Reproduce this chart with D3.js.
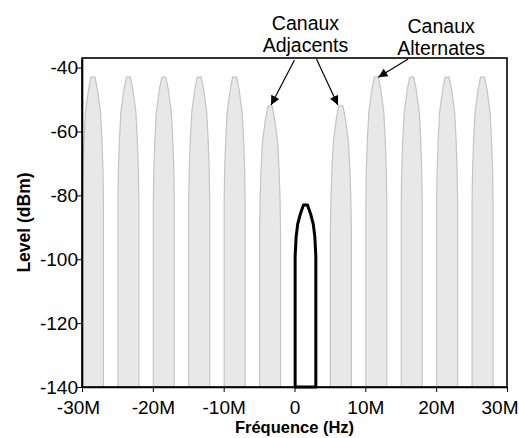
<!DOCTYPE html>
<html>
<head>
<meta charset="utf-8">
<script src="https://cdn.jsdelivr.net/npm/d3@7"></script>
<style>
  html, body { margin: 0; padding: 0; background: #fff; }
  svg { display: block; font-family: "Liberation Sans", Arial, sans-serif; }
</style>
</head>
<body>
<svg id="chart" width="519" height="438"></svg>
<script>
// ---- data ----
const channelCenters = [-28.45e6, -23.45e6, -18.45e6, -13.45e6, -8.45e6, -3.45e6, 6.55e6, 11.55e6, 16.55e6, 21.55e6, 26.55e6];
const channelPeaks   = [-43, -43, -43, -43, -43, -52, -52, -43, -43, -43, -43];
const channelKinds   = ["alt", "alt", "alt", "alt", "alt", "adj", "adj", "alt", "alt", "alt", "alt"];
// profile: dB below peak, half width (Hz)
const profileDrop  = [0, 4, 11, 20, 29, 39];
const profileHalfW = [0.28e6, 0.64e6, 1.06e6, 1.27e6, 1.41e6, 1.48e6];
const mainCenter = 1.55e6;
const mainPeak = -83;
const mainDrop  = [0, 3, 6, 10, 16];
const mainHalfW = [0.28e6, 0.75e6, 1.1e6, 1.32e6, 1.46e6];
const floorLevel = -140;
const xTicks = [-30e6, -20e6, -10e6, 0, 10e6, 20e6, 30e6];
const yTicks = [-40, -60, -80, -100, -120, -140];
const xDomain = [-30e6, 30e6];
const yDomain = [-140, -37];
const xTitle = "Fréquence (Hz)";
const yTitle = "Level (dBm)";
const annotAdjLines = ["Canaux", "Adjacents"];
const annotAltLines = ["Canaux", "Alternates"];
const annotAdjAt = 1.55e6;   // label centre (Hz)
const annotAltAt = 20.7e6;

// ---- layout ----
const svg = d3.select("#chart");
const m = { left: 82, right: 507, top: 58, bottom: 387 };
const x = d3.scaleLinear().domain(xDomain).range([m.left, m.right]);
const y = d3.scaleLinear().domain(yDomain).range([m.bottom, m.top]);

function shapePoints(center, peak, drops, halfs) {
  const pts = [];
  pts.push([center - halfs[halfs.length - 1], floorLevel]);
  for (let i = drops.length - 1; i >= 0; i--) pts.push([center - halfs[i], peak - drops[i]]);
  for (let i = 0; i < drops.length; i++) pts.push([center + halfs[i], peak - drops[i]]);
  pts.push([center + halfs[halfs.length - 1], floorLevel]);
  return pts;
}
const line = d3.line().x(d => x(d[0])).y(d => y(d[1]));

// gray channels
svg.append("g").selectAll("path")
  .data(channelCenters.map((c, i) => shapePoints(c, channelPeaks[i], profileDrop, profileHalfW)))
  .join("path")
  .attr("d", d => line(d))
  .attr("fill", "#e8e8e8")
  .attr("stroke", "#c4c4c4")
  .attr("stroke-width", 1.2);

// main channel
svg.append("path")
  .attr("d", line(shapePoints(mainCenter, mainPeak, mainDrop, mainHalfW)) + "Z")
  .attr("fill", "#fff")
  .attr("stroke", "#000")
  .attr("stroke-width", 3)
  .attr("stroke-linejoin", "round");

// frame
svg.append("rect")
  .attr("x", m.left).attr("y", m.top)
  .attr("width", m.right - m.left).attr("height", m.bottom - m.top)
  .attr("fill", "none").attr("stroke", "#000").attr("stroke-width", 1.6);

// axes
const fmtX = d => d === 0 ? "0" : (d / 1e6) + "M";
const gx = svg.append("g").attr("transform", `translate(0,${m.bottom})`)
  .call(d3.axisBottom(x).tickValues(xTicks).tickFormat(fmtX).tickSize(5).tickSizeOuter(0));
const gy = svg.append("g").attr("transform", `translate(${m.left},0)`)
  .call(d3.axisLeft(y).tickValues(yTicks).tickFormat(d => String(d)).tickSize(5).tickSizeOuter(0));
[gx, gy].forEach(g => {
  g.select(".domain").attr("stroke", "#000").attr("stroke-width", 1.6);
  g.selectAll(".tick line").attr("stroke", "#000");
  g.selectAll(".tick text").attr("fill", "#000")
    .style("font-family", '"Liberation Sans", Arial, sans-serif')
    .style("font-size", "19px");
});
gx.selectAll(".tick text").attr("dy", "0.98em");
// keep the last label inside the window
gx.selectAll(".tick text").filter(d => d === xTicks[xTicks.length - 1])
  .attr("text-anchor", "end").attr("x", 11);
gx.selectAll(".tick text").filter(d => d === xTicks[0]).attr("x", -4);
gy.selectAll(".tick text").attr("x", -4);

// titles
svg.append("text")
  .attr("x", (m.left + m.right) / 2).attr("y", 433)
  .attr("text-anchor", "middle")
  .style("font-size", "16.5px").style("font-weight", "bold")
  .text(xTitle);
svg.append("text")
  .attr("transform", `translate(30,${(m.top + m.bottom) / 2}) rotate(-90)`)
  .attr("text-anchor", "middle")
  .style("font-size", "17.5px").style("font-weight", "bold")
  .text(yTitle);

// annotations
const defs = svg.append("defs");
defs.append("marker")
  .attr("id", "arrow").attr("viewBox", "0 0 10 10")
  .attr("refX", 10).attr("refY", 5)
  .attr("markerWidth", 13).attr("markerHeight", 9)
  .attr("markerUnits", "userSpaceOnUse")
  .attr("orient", "auto")
  .append("path").attr("d", "M0,0 L10,5 L0,10 Z").attr("fill", "#000");

function label(lines, cx, y0) {
  const t = svg.append("text").attr("text-anchor", "middle")
    .style("font-size", "19.5px").attr("fill", "#000");
  lines.forEach((s, i) => t.append("tspan").attr("x", cx).attr("y", y0 + i * 22).text(s));
}
const adjLabelX = x(annotAdjAt);
label(annotAdjLines, adjLabelX, 30);
const altLabelX = x(annotAltAt);
label(annotAltLines, altLabelX, 33);

function arrow(x1, y1, x2, y2) {
  svg.append("line")
    .attr("x1", x1).attr("y1", y1).attr("x2", x2).attr("y2", y2)
    .attr("stroke", "#000").attr("stroke-width", 1.2)
    .attr("marker-end", "url(#arrow)");
}
// adjacent arrows -> peaks of adjacent channels
arrow(adjLabelX - 11, 60, x(channelCenters[5]) + 1, y(channelPeaks[5]) - 1);
arrow(adjLabelX + 11, 59, x(channelCenters[6]) - 3, y(channelPeaks[6]) - 1);
// alternate arrow -> peak of first alternate above
arrow(altLabelX - 33, 59, x(channelCenters[7]) + 2, y(channelPeaks[7]));
</script>
</body>
</html>
